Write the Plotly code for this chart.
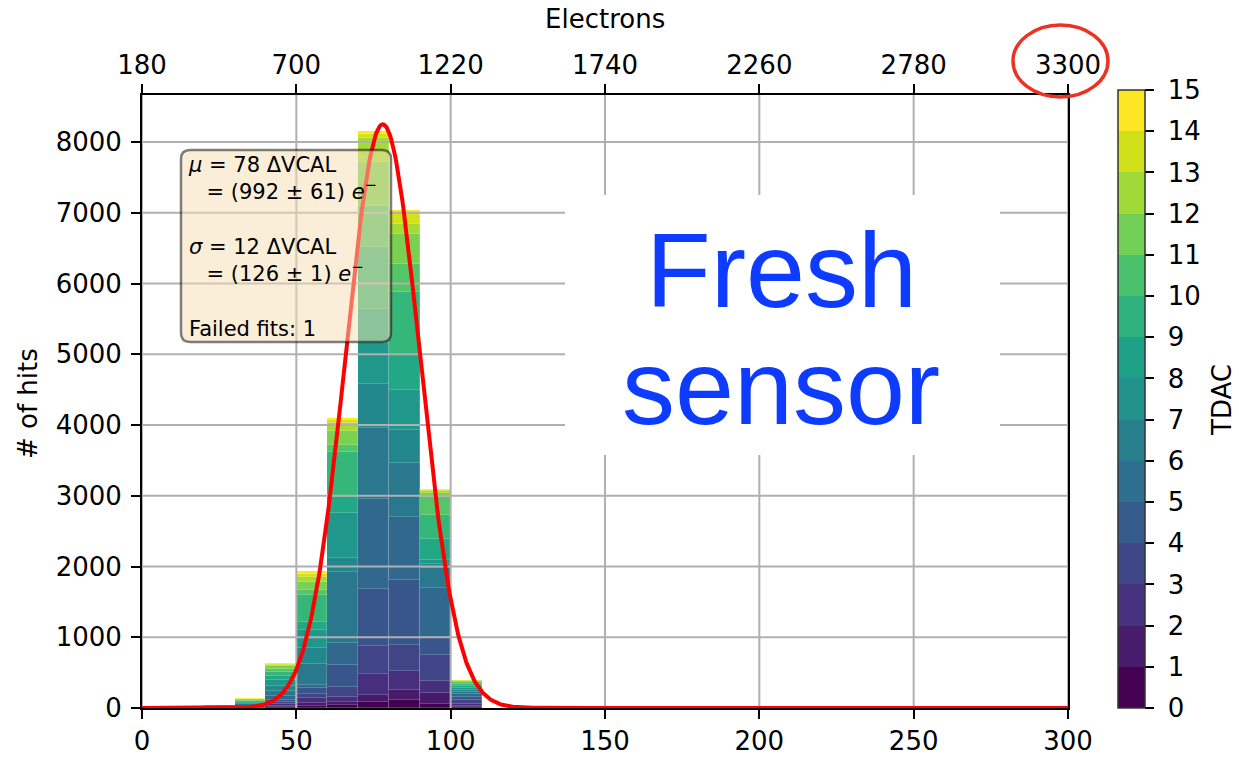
import numpy as np
import plotly.graph_objects as go

# ---- histogram data: hits per ΔVCAL bin, split by TDAC value (0..15) ----
tdac_levels = list(range(16))
bin_width = 10
bin_lefts = [20, 30, 40, 50, 60, 70, 80, 90, 100]

hits_20 = [0, 0, 1, 1, 2, 2, 3, 3, 4, 4, 5, 5, 5, 4, 2, 1]
hits_30 = [2, 3, 5, 7, 8, 10, 15, 15, 15, 12, 12, 10, 10, 6, 4, 3]
hits_40 = [10, 15, 25, 30, 40, 50, 70, 70, 80, 60, 60, 40, 40, 20, 12, 10]
hits_50 = [30, 36, 71, 60, 81, 47, 300, 218, 259, 118, 377, 70, 120, 69, 45, 30]
hits_60 = [40, 49, 71, 141, 300, 313, 1013, 188, 636, 235, 636, 94, 200, 107, 45, 25]
hits_70 = [80, 106, 293, 399, 798, 1276, 1011, 611, 586, 478, 878, 585, 612, 346, 51, 45]
hits_80 = [110, 149, 259, 376, 918, 894, 753, 470, 565, 494, 894, 400, 424, 141, 153, 45]
hits_90 = [60, 147, 180, 362, 259, 683, 283, 60, 57, 300, 336, 259, 57, 25, 15, 12]
hits_100 = [10, 20, 30, 53, 40, 40, 33, 25, 25, 30, 40, 20, 10, 8, 6, 6]
hits_per_bin = [hits_20, hits_30, hits_40, hits_50, hits_60,
                hits_70, hits_80, hits_90, hits_100]

# Gaussian fit result
fit_mu = 78
fit_sigma = 12
fit_amplitude = 8250

# axis ticks
x_ticks = [0, 50, 100, 150, 200, 250, 300]
y_ticks = [0, 1000, 2000, 3000, 4000, 5000, 6000, 7000, 8000]
electron_ticks = [180, 700, 1220, 1740, 2260, 2780, 3300]
cbar_ticks = list(range(16))

# viridis colours for the 16 TDAC values and the 15-band colour bar
tdac_colors = ["#440154", "#481a6c", "#472f7d", "#414487", "#39568c", "#31688e",
               "#2a788e", "#23888e", "#1f988b", "#22a884", "#35b779", "#54c568",
               "#7ad151", "#a5db36", "#d2e21b", "#fde725"]
band_colors = ["#440154", "#481b6d", "#46327e", "#3f4788", "#365c8d", "#2e6e8e",
               "#277f8e", "#21918c", "#1fa188", "#2db27d", "#4ac16d", "#73d056",
               "#a0da39", "#d0e11c", "#fde725"]

# ---- geometry of the plotting area (pixels) ----
W, H = 1239, 759
L, R, T, B = 142, 1068, 95, 708
X_MAX = 300
Y_MAX = 8665


def px_x(px):
    return (px - L) / (R - L) * X_MAX


def px_y(py):
    return (B - py) / (B - T) * Y_MAX


def paper_x(px):
    return (px - L) / (R - L)


def paper_y(py):
    return (B - py) / (B - T)


FONT = "DejaVu Sans"
TXT = dict(family=FONT, size=26, color="black")
centers = [b + bin_width / 2 for b in bin_lefts]

fig = go.Figure()

# stacked histogram, one trace per TDAC value
for t in tdac_levels:
    fig.add_trace(go.Bar(
        x=centers,
        y=[row[t] for row in hits_per_bin],
        width=bin_width,
        marker=dict(color=tdac_colors[t],
                    line=dict(color="rgba(255,255,255,0.3)", width=0.6)),
        showlegend=False,
        hoverinfo="skip",
    ))

# grid drawn on top of the bars
gx, gy = [], []
for xv in x_ticks:
    gx += [xv, xv, None]
    gy += [0, Y_MAX, None]
for yv in y_ticks[1:]:
    gx += [0, X_MAX, None]
    gy += [yv, yv, None]
fig.add_trace(go.Scatter(x=gx, y=gy, mode="lines",
                         line=dict(color="#b0b0b0", width=2),
                         showlegend=False, hoverinfo="skip"))

# Gaussian fit curve
xs = np.linspace(0, X_MAX, 901)
ys = fit_amplitude * np.exp(-(xs - fit_mu) ** 2 / (2 * fit_sigma ** 2))
fig.add_trace(go.Scatter(x=xs, y=ys, mode="lines",
                         line=dict(color="#ff0000", width=4),
                         showlegend=False, hoverinfo="skip"))

# colour bar for TDAC
cscale = []
nb = len(band_colors)
for i, c in enumerate(band_colors):
    cscale.append([i / nb, c])
    cscale.append([(i + 1) / nb, c])
fig.add_trace(go.Scatter(
    x=[-50, -50], y=[-50, -50], mode="markers",
    marker=dict(color=[0, 15], cmin=0, cmax=15, colorscale=cscale, size=1,
                showscale=True,
                colorbar=dict(
                    x=paper_x(1118), xanchor="left", xpad=0,
                    y=0, yanchor="bottom", ypad=0,
                    thickness=27, lenmode="pixels", len=B - 90,
                    outlinewidth=1.5, outlinecolor="#333333",
                    tickvals=cbar_ticks,
                    ticktext=[f"\u00a0{v}" for v in cbar_ticks],
                    ticks="outside", ticklen=9,
                    tickwidth=2, tickcolor="black",
                    tickfont=TXT,
                )),
    showlegend=False, hoverinfo="skip",
))

# trace carrying the electron (top) axis
fig.add_trace(go.Scatter(x=[electron_ticks[0], electron_ticks[-1]], y=[-50, -50],
                         xaxis="x2", mode="markers", marker=dict(size=1, opacity=0),
                         showlegend=False, hoverinfo="skip"))

axis_common = dict(showline=True, linecolor="black", linewidth=2,
                   ticks="outside", ticklen=9, tickwidth=2, tickcolor="black",
                   showgrid=False, zeroline=False, automargin=False,
                   tickfont=TXT)

fig.update_layout(
    width=W, height=H, autosize=False,
    margin=dict(l=L, r=W - R, t=T, b=H - B),
    paper_bgcolor="white", plot_bgcolor="white",
    barmode="stack", bargap=0,
    showlegend=False,
    xaxis=dict(range=[0, X_MAX], tickvals=x_ticks, layer="above traces",
               **axis_common),
    xaxis2=dict(range=[electron_ticks[0], electron_ticks[-1]],
                tickvals=electron_ticks, overlaying="x", side="top", anchor="y",
                layer="above traces", **axis_common),
    yaxis=dict(range=[0, Y_MAX], tickvals=y_ticks, tickformat="d",
               mirror=True, layer="above traces", ticklabelstandoff=4,
               **axis_common),
)

# axis and colour-bar titles
fig.add_annotation(x=paper_x(605), y=paper_y(19), xref="paper", yref="paper",
                   text="Electrons", showarrow=False, font=TXT,
                   xanchor="center", yanchor="middle")
fig.add_annotation(x=paper_x(28), y=paper_y(404), xref="paper", yref="paper",
                   text="# of hits", showarrow=False, font=TXT, textangle=-90,
                   xanchor="center", yanchor="middle")
fig.add_annotation(x=paper_x(1222), y=paper_y(400), xref="paper", yref="paper",
                   text="TDAC", showarrow=False, font=TXT, textangle=-90,
                   xanchor="center", yanchor="middle")

# white panel behind the label text
fig.add_shape(type="rect", xref="x", yref="y",
              x0=px_x(565), x1=px_x(1000), y0=px_y(455), y1=px_y(195),
              fillcolor="white", line=dict(width=0), layer="above")

# rounded, semi-transparent wheat box with fit results
x0, x1 = px_x(181), px_x(391)
y0, y1 = px_y(342), px_y(150)
rx, ry = px_x(L + 9), px_y(B - 9)
path = (f"M {x0 + rx},{y0} L {x1 - rx},{y0} Q {x1},{y0} {x1},{y0 + ry} "
        f"L {x1},{y1 - ry} Q {x1},{y1} {x1 - rx},{y1} "
        f"L {x0 + rx},{y1} Q {x0},{y1} {x0},{y1 - ry} "
        f"L {x0},{y0 + ry} Q {x0},{y0} {x0 + rx},{y0} Z")
fig.add_shape(type="path", path=path, xref="x", yref="y",
              fillcolor="rgba(245,222,179,0.5)",
              line=dict(color="rgba(0,0,0,0.5)", width=2.5), layer="above")

indent = "\u00a0\u00a0\u2009"
box_text = (f"<i>μ</i> = {fit_mu} ΔVCAL<br>"
            f"{indent}= (992 ± 61) <i>e</i><sup>−</sup><br><br>"
            f"<i>σ</i> = {fit_sigma} ΔVCAL<br>"
            f"{indent}= (126 ± 1) <i>e</i><sup>−</sup><br><br>"
            "Failed fits: 1")
fig.add_annotation(x=px_x(186), y=px_y(151), xref="x", yref="y",
                   xanchor="left", yanchor="top", align="left",
                   text=box_text, showarrow=False,
                   font=dict(family=FONT, size=21, color="black"))

# big label
for word, py in [("Fresh", 270), ("sensor", 387)]:
    fig.add_annotation(x=px_x(781), y=px_y(py), xref="x", yref="y",
                       xanchor="center", yanchor="middle", text=word,
                       showarrow=False,
                       font=dict(family="Liberation Sans", size=106,
                                 color="#0d3bff"))

# red ring around the last electron tick
fig.add_shape(type="circle", xref="paper", yref="paper",
              x0=paper_x(1013), x1=paper_x(1108),
              y0=paper_y(97), y1=paper_y(25),
              line=dict(color="#ec3323", width=3.5), layer="above")

fig.write_html("out.html")
